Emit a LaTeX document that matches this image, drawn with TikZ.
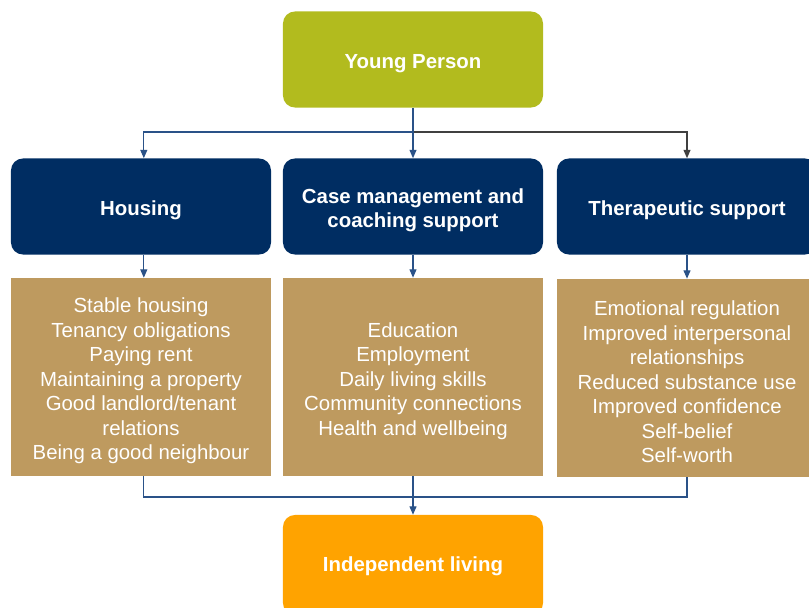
\documentclass[tikz,border=0pt]{standalone}
\usepackage{fontspec}
\setmainfont{Liberation Sans}
\usepackage{xcolor}
\usepackage{tikz}
\usetikzlibrary{arrows.meta,positioning}

\definecolor{youngcol}{HTML}{B2BB1E}
\definecolor{navycol}{HTML}{002D62}
\definecolor{browncol}{HTML}{BE9A5F}
\definecolor{orangecol}{HTML}{FFA300}
\definecolor{linkcol}{HTML}{2A5288}

\begin{document}
\begin{tikzpicture}[x=0.025cm, y=-0.025cm, >={Triangle[width=5pt,length=6pt]},
  box/.style={minimum width=6.5cm, minimum height=2.4cm, align=center, text=white,
    font=\fontsize{14.5}{16.5}\selectfont\bfseries, rounded corners=0.3cm, text height=15.5pt},
  listbox/.style={fill=browncol, minimum width=6.5cm, minimum height=4.95cm, align=center,
    text=white, font=\fontsize{14.5}{17.4}\selectfont, text height=#1},
  link/.style={draw=linkcol, line width=0.8pt},
  darklink/.style={draw=black!75, line width=0.8pt}]
\useasboundingbox (0,0) rectangle (809,607);
% --- Top: the young person ---
\node[box, fill=youngcol] (young) at (413,59.5) {Young Person};
% --- Middle: three kinds of support ---
\node[box, fill=navycol] (housing) at (141,206.5) {Housing};
\node[box, fill=navycol, text height=32.5pt] (casemgmt) at (413,206.5) {Case management and\\coaching support};
\node[box, fill=navycol] (therapy) at (687,206.5) {Therapeutic support};
\node[listbox=120.6pt] (housinglist) at (141,377) {Stable housing\\Tenancy obligations\\Paying rent\\Maintaining a property\\Good landlord/tenant\\relations\\Being a good neighbour};
\node[listbox=85.8pt] (caselist) at (413,377) {Education\\Employment\\Daily living skills\\Community connections\\Health and wellbeing};
\node[listbox=120.6pt] (therapylist) at (687,378) {Emotional regulation\\Improved interpersonal\\relationships\\Reduced substance use\\Improved confidence\\Self-belief\\Self-worth};
% --- Bottom: the outcome ---
\node[box, fill=orangecol, minimum height=2.5cm, text height=13pt] (independent) at (413,565) {Independent living};
% --- Connectors ---
\coordinate (split) at (413,132);
\coordinate (merge) at (413,497);
\draw[darklink, ->] (split) -| (therapy.north);
\draw[link, ->] (split) -| ([xshift=2]housing.north);
\draw[link, ->] (young.south) -- (casemgmt.north);
\draw[link, ->] ([xshift=2]housing.south) -- ([xshift=2]housinglist.north);
\draw[link, ->] (casemgmt.south) -- (caselist.north);
\draw[link, ->] (therapy.south) -- (therapylist.north);
\draw[link] ([xshift=2]housinglist.south) |- (merge);
\draw[link] (therapylist.south) |- (merge);
\draw[link, ->] (caselist.south) -- (independent.north);
\end{tikzpicture}
\end{document}
